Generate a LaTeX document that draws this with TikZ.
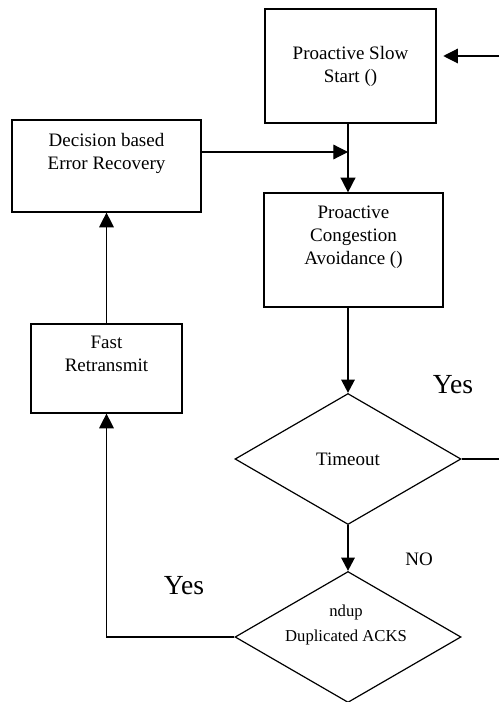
\documentclass[tikz,border=0pt]{standalone}
\usepackage{fontspec}
\setmainfont{Liberation Serif}
\usepackage{tikz}
\usetikzlibrary{arrows.meta,positioning,shapes.geometric}

\begin{document}
\begin{tikzpicture}[
  x=0.75pt,y=-0.75pt,
  font={\fontsize{14.25pt}{17.25pt}\selectfont},
  st/.style={draw=black,line width=0.9pt,align=center,inner sep=0pt},
  dec/.style={diamond,draw=black,line width=0.9pt,inner sep=0pt,minimum width=169.5pt,minimum height=98.25pt},
  arr/.style={-{Triangle[length=11pt,width=11pt]},line width=0.9pt},
  tarr/.style={-{Triangle[length=10pt,width=10pt]},line width=1.7pt},
  big/.style={font={\fontsize{20.7pt}{24pt}\selectfont}}
]
\useasboundingbox (0,0) rectangle (499,702);

\node[st,minimum width=128.25pt,minimum height=85.5pt] (slow) at (350.5,66) {Proactive Slow\\Start ()};
\node[st,minimum width=134.25pt,minimum height=85.5pt] (cong) at (353.5,250) {Proactive\\Congestion\\Avoidance ()\\\strut};
\node[st,minimum width=141.75pt,minimum height=69pt] (recov) at (106.5,166) {Decision based\\Error Recovery\\\strut};
\node[st,minimum width=113.25pt,minimum height=66.75pt] (fast) at (106.5,368.5) {Fast\\Retransmit\\\strut};
\node[dec] (tmo) at (348,459) {};
\node at (tmo.center) (tmotxt) {Timeout};
\node[dec] (dup) at (348,637) {};
\node[align=center,font={\fontsize{12.5pt}{18.75pt}\selectfont}] (duptxt) at (346,624.5) {ndup\\Duplicated ACKS};

\node[big] (yesR) at (453,385) {Yes};
\node (noD) at (419,559) {NO};
\node[big] (yesL) at (184,586) {Yes};

\coordinate (inR) at (499,56);
\coordinate (outR) at (499,459);
\coordinate (jn) at (348,152);

\draw[arr,shorten >=5pt] (inR) -- (inR -| slow.east);
\draw[arr,line width=1.2pt] (slow.south -| tmo.north) -- (cong.north -| tmo.north);
\draw[arr] (recov.east |- jn) -- (jn);
\draw[tarr] (cong.south -| tmo.north) -- (tmo.north);
\draw[line width=0.9pt] (tmo.east) -- (outR);
\draw[tarr] (tmo.south) -- (dup.north);
\draw[arr] (dup.west) -| (fast.south);
\draw[arr] (fast.north) -- (recov.south);
\end{tikzpicture}
\end{document}
